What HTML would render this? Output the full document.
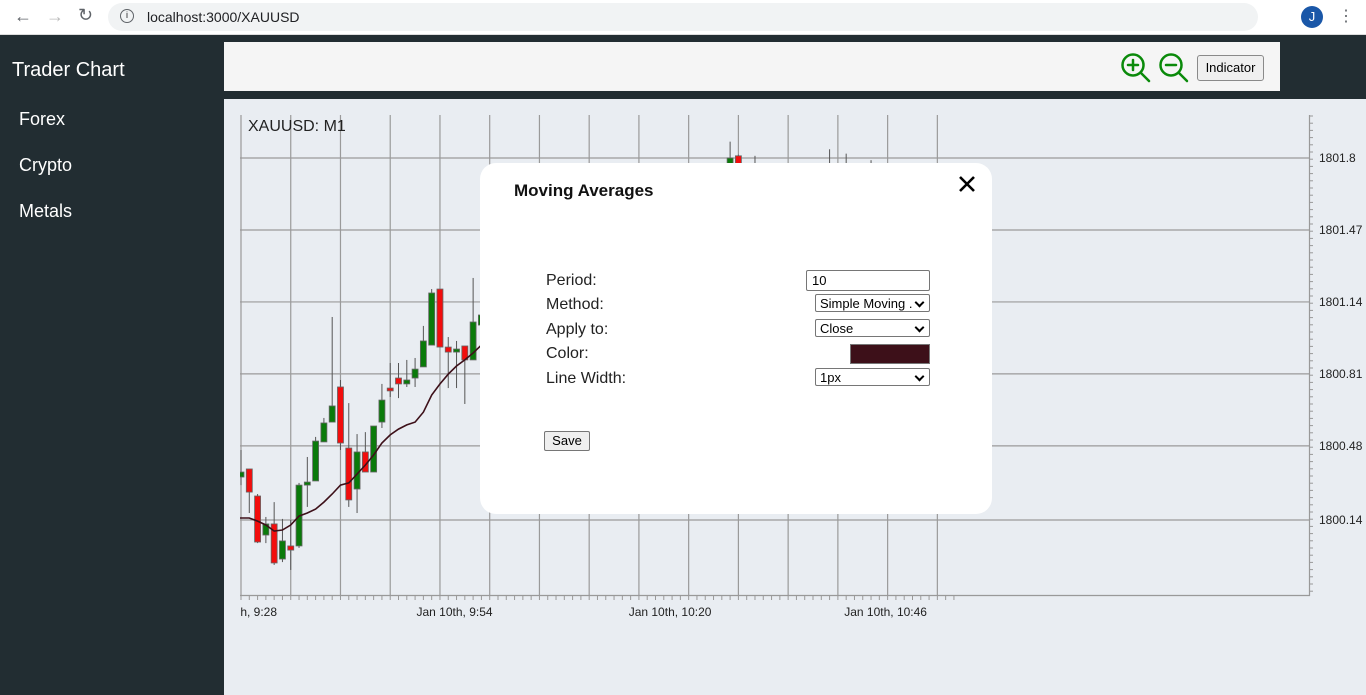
<!DOCTYPE html>
<html><head><meta charset="utf-8"><style>
*{box-sizing:border-box;margin:0;padding:0}
body{width:1366px;height:695px;overflow:hidden;background:#222d32;font-family:"Liberation Sans",sans-serif;position:relative}
.abs{position:absolute}
#browser{left:0;top:0;width:1366px;height:35px;background:#fff;border-bottom:1px solid #ddd}
#url{left:108px;top:3px;width:1150px;height:28px;border-radius:14px;background:#f1f3f4;font-size:14px;color:#202124;padding:6px 0 0 39px}
#side{left:0;top:35px;width:224px;height:660px;background:#222d32;color:#fff}
.nav{position:absolute;left:19px;font-size:18px;color:#fff}
#toolbar{left:224px;top:42px;width:1056px;height:49px;background:#f5f5f5}
#chartbg{left:224px;top:99px;width:1142px;height:596px;background:#e9edf2}
#modal{left:480px;top:163px;width:512px;height:351px;background:#fff;border-radius:16px}
.lbl{position:absolute;left:66px;font-size:16px;color:#222}
.sel{position:absolute;left:335px;width:115px;height:18px;border:1px solid #767676;border-radius:2px;font-size:13px;padding:1px 0 0 4px;background:#fff;color:#000}
.sel:after{content:"";position:absolute;right:6px;top:4px;width:5px;height:5px;border-right:2px solid #000;border-bottom:2px solid #000;transform:rotate(45deg)}
</style></head><body>
<div id="browser" class="abs">
 <div class="abs" style="left:14px;top:6px;font-size:18px;color:#5f6368">←</div>
 <div class="abs" style="left:46px;top:6px;font-size:18px;color:#bbb">→</div>
 <div class="abs" style="left:78px;top:5px;font-size:18px;color:#5f6368">↻</div>
 <div id="url" class="abs"><span style="position:absolute;left:12px;top:6px;width:14px;height:14px;border:1.5px solid #5f6368;border-radius:50%;font-size:9px;text-align:center;line-height:11px">i</span>localhost:3000/XAUUSD</div>
 <div class="abs" style="left:1301px;top:6px;width:22px;height:22px;border-radius:50%;background:#1a57a8;color:#fff;font-size:13px;text-align:center;line-height:22px">J</div>
 <div class="abs" style="left:1338px;top:6px;font-size:16px;color:#5f6368">⋮</div>
</div>
<div id="side" class="abs">
 <div class="abs" style="left:12px;top:24px;font-size:20px">Trader Chart</div>
 <div class="nav" style="top:74px">Forex</div>
 <div class="nav" style="top:120px">Crypto</div>
 <div class="nav" style="top:166px">Metals</div>
</div>
<div id="toolbar" class="abs">
 <svg class="abs" style="left:896px;top:10px" width="32" height="32"><circle cx="13" cy="13" r="10.5" fill="none" stroke="#0a8a0a" stroke-width="2.5"/><path d="M8 13h10M13 8v10M21 21l8 8" stroke="#0a8a0a" stroke-width="2.5" stroke-linecap="round"/></svg>
 <svg class="abs" style="left:934px;top:10px" width="32" height="32"><circle cx="13" cy="13" r="10.5" fill="none" stroke="#0a8a0a" stroke-width="2.5"/><path d="M8 13h10M21 21l8 8" stroke="#0a8a0a" stroke-width="2.5" stroke-linecap="round"/></svg>
 <div class="abs" style="left:973px;top:13px;width:67px;height:26px;border:1px solid #8a8a8a;border-radius:3px;background:#efefef;font-size:13px;text-align:center;line-height:24px">Indicator</div>
</div>
<div id="chartbg" class="abs"></div>
<svg id="chart" class="abs" style="left:0;top:0" width="1366" height="695"></svg>
<div class="abs" style="left:248px;top:118px;font-size:16px;color:#222">XAUUSD: M1</div>
<div id="modal" class="abs">
 <div class="abs" style="left:34px;top:18px;font-size:17px;font-weight:bold;color:#111">Moving Averages</div>
 <svg class="abs" style="left:478px;top:12px" width="18" height="18"><path d="M2 2L16 16M16 2L2 16" stroke="#000" stroke-width="2.6"/></svg>
 <div class="lbl" style="top:109px">Period:</div>
 <div class="lbl" style="top:133px">Method:</div>
 <div class="lbl" style="top:158px">Apply to:</div>
 <div class="lbl" style="top:182px">Color:</div>
 <div class="lbl" style="top:207px">Line Width:</div>
 <div class="abs" style="left:326px;top:107px;width:124px;height:21px;border:1px solid #767676;border-radius:2px;font-size:13px;padding:2px 0 0 5px">10</div>
 <div class="sel" style="top:131px">Simple Moving .</div>
 <div class="sel" style="top:156px">Close</div>
 <div class="abs" style="left:370px;top:181px;width:80px;height:20px;border:1px solid #777;background:#3d1019"></div>
 <div class="sel" style="top:205px">1px</div>
 <div class="abs" style="left:64px;top:268px;width:46px;height:20px;border:1px solid #767676;border-radius:2px;background:#efefef;font-size:13px;text-align:center;line-height:18px">Save</div>
</div>
<script>
const opens=[1800.337,1800.374,1800.250,1800.071,1800.122,1799.961,1800.021,1800.021,1800.300,1800.319,1800.498,1800.589,1800.750,1800.470,1800.282,1800.452,1800.360,1800.589,1800.745,1800.791,1800.764,1800.791,1800.842,1800.942,1801.199,1800.933,1800.910,1800.938,1800.874,1801.034,
1801.05,1801.10,1801.08,1801.15,1801.20,1801.18,1801.25,1801.30,1801.28,1801.35,1801.40,1801.38,1801.42,1801.45,1801.43,1801.50,1801.48,1801.52,1801.55,1801.53,1801.58,1801.56,1801.60,1801.58,1801.62,1801.60,1801.64,1801.62,1801.65,1801.60,1801.81,1801.70,1801.68,1801.66,1801.64,1801.66,1801.68,1801.65,1801.67,1801.69,1801.70,1801.72,1801.71,1801.73,1801.74,1801.75,1801.73,1801.74];
const closes=[1800.360,1800.268,1800.039,1800.122,1799.943,1800.044,1800.002,1800.300,1800.314,1800.502,1800.585,1800.663,1800.493,1800.232,1800.452,1800.360,1800.571,1800.690,1800.732,1800.764,1800.782,1800.832,1800.961,1801.181,1800.933,1800.910,1800.924,1800.874,1801.048,1801.080,
1801.10,1801.08,1801.15,1801.20,1801.18,1801.25,1801.30,1801.28,1801.35,1801.40,1801.38,1801.42,1801.45,1801.43,1801.50,1801.48,1801.52,1801.55,1801.53,1801.58,1801.56,1801.60,1801.58,1801.62,1801.60,1801.64,1801.62,1801.65,1801.60,1801.80,1801.70,1801.68,1801.66,1801.64,1801.66,1801.68,1801.65,1801.67,1801.69,1801.70,1801.72,1801.71,1801.73,1801.74,1801.77,1801.73,1801.74,1801.72];
const highs=[1800.461,1800.374,1800.259,1800.154,1800.222,1800.145,1800.140,1800.310,1800.429,1800.521,1800.608,1801.071,1800.782,1800.676,1800.534,1800.543,1800.571,1800.764,1800.860,1800.860,1800.874,1800.883,1801.030,1801.199,1801.199,1800.979,1800.961,1800.938,1801.250,1801.080,
1801.15,1801.14,1801.20,1801.25,1801.24,1801.30,1801.35,1801.33,1801.40,1801.45,1801.43,1801.47,1801.50,1801.48,1801.55,1801.53,1801.57,1801.60,1801.58,1801.63,1801.61,1801.65,1801.63,1801.67,1801.65,1801.69,1801.67,1801.70,1801.70,1801.875,1801.815,1801.74,1801.81,1801.70,1801.71,1801.72,1801.71,1801.72,1801.74,1801.75,1801.76,1801.84,1801.77,1801.82,1801.77,1801.775,1801.79,1801.76];
const lows=[1800.300,1800.172,1800.034,1800.034,1799.934,1799.947,1799.911,1800.012,1800.200,1800.319,1800.498,1800.589,1800.461,1800.200,1800.172,1800.360,1800.360,1800.562,1800.704,1800.699,1800.750,1800.750,1800.842,1800.942,1800.933,1800.745,1800.745,1800.672,1800.874,1801.011,
1801.00,1801.03,1801.05,1801.10,1801.13,1801.15,1801.20,1801.22,1801.25,1801.30,1801.33,1801.35,1801.38,1801.40,1801.41,1801.44,1801.45,1801.48,1801.50,1801.51,1801.53,1801.54,1801.56,1801.56,1801.58,1801.58,1801.60,1801.60,1801.56,1801.55,1801.65,1801.62,1801.60,1801.60,1801.61,1801.63,1801.62,1801.63,1801.65,1801.66,1801.67,1801.66,1801.68,1801.69,1801.70,1801.69,1801.69,1801.68];
const maValues=[1800.149,1800.149,1800.135,1800.117,1800.089,1800.094,1800.117,1800.158,1800.172,1800.190,1800.222,1800.259,1800.300,1800.310,1800.351,1800.392,1800.438,1800.493,1800.530,1800.557,1800.576,1800.589,1800.635,1800.713,1800.764,1800.809,1800.846,1800.874,1800.906,1800.942];
const priceTicks=[1801.8,1801.47,1801.14,1800.81,1800.48,1800.14];
const timeLabels=["Jan 10th, 9:28","Jan 10th, 9:54","Jan 10th, 10:20","Jan 10th, 10:46"];
const timeLabelIdx=[0,26,52,78];

const svg=document.getElementById('chart');
const NS='http://www.w3.org/2000/svg';
const X0=241,STEP=8.29,PTOP=1801.8,YTOP=158,PPX=218.07;
function xs(i){return X0+i*STEP;}
function ys(p){return YTOP+(PTOP-p)*PPX;}
function el(t,a,parent){const e=document.createElementNS(NS,t);for(const k in a)e.setAttribute(k,a[k]);(parent||svg).appendChild(e);return e;}
const clip=el('clipPath',{id:'plot'});el('rect',{x:240,y:100,width:1070,height:496},clip);
const g=el('g',{'clip-path':'url(#plot)'});


for(let i=0;i<=84;i+=6){const l=el('line',{x1:xs(i),x2:xs(i),y1:115,y2:596,stroke:'#9a9a9a','stroke-width':1.2},g);

}
priceTicks.forEach(p=>{const l=el('line',{x1:240,x2:1310,y1:ys(p),y2:ys(p),stroke:'#9a9a9a','stroke-width':1.2},g);

});
for(let i=0;i<opens.length;i++){
 const up=closes[i]>=opens[i];const x=xs(i);
 const w=el('line',{x1:x,x2:x,y1:ys(highs[i]),y2:ys(lows[i]),stroke:'#555','stroke-width':1},g);
 
 
 const top=ys(Math.max(opens[i],closes[i])),bot=ys(Math.min(opens[i],closes[i]));
 const b=el('rect',{x:x-3,y:top,width:6,height:Math.max(bot-top,2),fill:up?'#0a7a0a':'#f20d0d',stroke:'#666','stroke-width':0.8},g);
 
 
}
let d='';maValues.forEach((v,i)=>{d+=(i?'L':'M')+xs(i).toFixed(1)+' '+ys(v).toFixed(1);});
const ma=el('path',{d:'M224 '+ys(maValues[0]).toFixed(1)+' '+d.replace('M','L'),fill:'none',stroke:'#3d1019','stroke-width':1.6},g);


const xa=el('line',{x1:240,x2:1310,y1:595.5,y2:595.5,stroke:'#999','stroke-width':1.2});


for(let i=0;i<=86;i++){el('line',{x1:xs(i),x2:xs(i),y1:595,y2:600,stroke:'#999','stroke-width':1});}
const tclip=el('clipPath',{id:'tc'});el('rect',{x:241,y:600,width:1100,height:30},tclip);
timeLabels.forEach((t,k)=>{const tx=el('text',{x:xs(timeLabelIdx[k])-2,y:616,'text-anchor':'middle','font-size':12,fill:'#222','font-family':'Liberation Sans, sans-serif','clip-path':'url(#tc)'});tx.textContent=t;

});
const ya=el('line',{x1:1309.5,x2:1309.5,y1:115,y2:596,stroke:'#999','stroke-width':1.2});


for(let y=116;y<=596;y+=7.2){el('line',{x1:1309,x2:1313,y1:y,y2:y,stroke:'#999','stroke-width':1});}
priceTicks.forEach(p=>{const t=el('text',{x:1319,y:ys(p)+4,'font-size':12,fill:'#222','font-family':'Liberation Sans, sans-serif'});t.textContent=String(p);

});
</script>
</body></html>
